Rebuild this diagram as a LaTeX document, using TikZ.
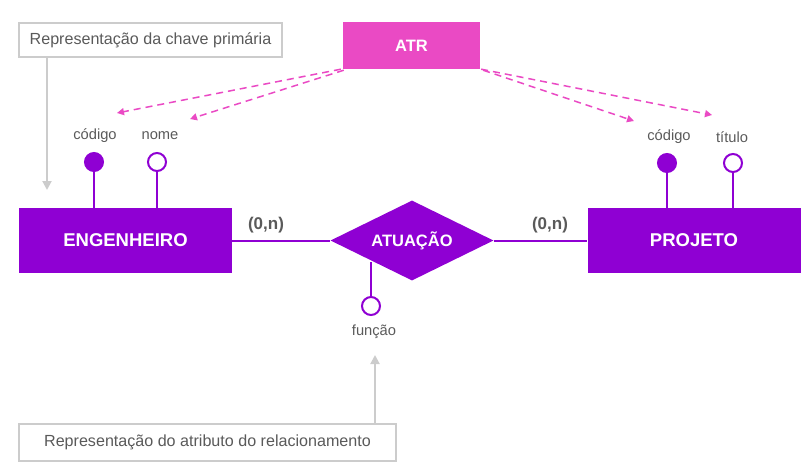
\documentclass[tikz,border=0pt]{standalone}
\usepackage{fontspec}
\setmainfont{Liberation Sans}
\usetikzlibrary{arrows.meta,shapes.geometric}
\definecolor{erpurple}{RGB}{143,0,211}
\definecolor{atrpink}{RGB}{234,74,196}
\definecolor{boxgray}{RGB}{204,204,204}
\definecolor{txtgray}{RGB}{90,90,90}
\begin{document}
\begin{tikzpicture}[x=1pt,y=-1pt,
  entity/.style={fill=erpurple,draw=none,minimum width=213pt,minimum height=65pt,inner sep=0pt,text=white,font=\fontsize{18.5}{21}\selectfont\bfseries},
  rel/.style={diamond,fill=erpurple,draw=none,minimum width=163pt,minimum height=80pt,inner sep=0pt,aspect=2,text=white,font=\fontsize{16.5}{19}\selectfont\bfseries},
  keyattr/.style={circle,fill=erpurple,draw=erpurple,line width=2pt,minimum size=18pt,inner sep=0pt},
  attr/.style={circle,fill=white,draw=erpurple,line width=2pt,minimum size=18pt,inner sep=0pt},
  attrlabel/.style={text=txtgray,font=\fontsize{14.7}{17}\selectfont,inner sep=0pt},
  card/.style={text=txtgray,font=\fontsize{17}{19}\selectfont\bfseries,inner sep=0pt},
  note/.style={draw=boxgray,line width=2pt,fill=white,text=txtgray,font=\fontsize{16.1}{19}\selectfont,inner sep=0pt},
  link/.style={draw=erpurple,line width=2pt},
  notearrow/.style={draw=boxgray,line width=2pt,-{Triangle[width=9pt,length=9pt]}},
  atrarrow/.style={draw=atrpink,line width=1.5pt,dashed,dash pattern=on 7pt off 5pt,-{Triangle[width=7pt,length=7pt]}}
]
\useasboundingbox (0,0) rectangle (810,474);
% entities
\node[entity] (eng) at (125.5,240.5) {ENGENHEIRO};
\node[entity] (proj) at (694,240.5) {PROJETO};
\node[rel] (atu) at (412,240.5) {ATUAÇÃO};
% ATR
\node[fill=atrpink,draw=none,minimum width=137pt,minimum height=47pt,inner sep=0pt,text=white,font=\fontsize{16.5}{19}\selectfont\bfseries] (atr) at (411.5,45.5) {ATR};
% attributes
\node[keyattr] (ec) at (94,162) {};
\node[attr] (en) at (157,162) {};
\node[keyattr] (pc) at (667,163) {};
\node[attr] (pt) at (733,163) {};
\node[attr] (fu) at (371,306) {};
\node[attrlabel] (ecl) at (95,136) {código};
\node[attrlabel] (enl) at (160,136) {nome};
\node[attrlabel] (pcl) at (669,137) {código};
\node[attrlabel] (ptl) at (732,137) {título};
\node[attrlabel] (ful) at (374,332) {função};
\draw[link] (ec) -- (ec |- eng.north);
\draw[link] (en) -- (en |- eng.north);
\draw[link] (pc) -- (pc |- proj.north);
\draw[link] (pt) -- (pt |- proj.north);
\coordinate (futop) at (371,262);
\draw[link] (fu) -- (futop);
% relationships
\draw[link] (eng.east) -- (atu.west);
\draw[link] (atu.east) -- (proj.west);
\node[card] (c1) at (266,225) {(0,n)};
\node[card] (c2) at (550,225) {(0,n)};
% notes
\node[note,minimum width=263pt,minimum height=34pt] (n1) at (150.5,40) {Representação da chave primária};
\node[note,minimum width=377pt,minimum height=37pt] (n2) at (207.5,442.5) {Representação do atributo do relacionamento};
\coordinate (n1t) at (47,190);
\coordinate (n2t) at (375,355);
\draw[notearrow] (n1.south -| n1t) -- (n1t);
\draw[notearrow] (n2.north -| n2t) -- (n2t);
% ATR dashed arrows
\coordinate (a1) at (117,113);
\coordinate (a2) at (190,119);
\coordinate (a3) at (634,121);
\coordinate (a4) at (712,115);
\draw[atrarrow] (atr.south west) ++(-2,0) -- (a1);
\draw[atrarrow] (atr.south west) ++(1,1) -- (a2);
\draw[atrarrow] (atr.south east) ++(3,1) -- (a3);
\draw[atrarrow] (atr.south east) ++(1,0) -- (a4);
\end{tikzpicture}
\end{document}
